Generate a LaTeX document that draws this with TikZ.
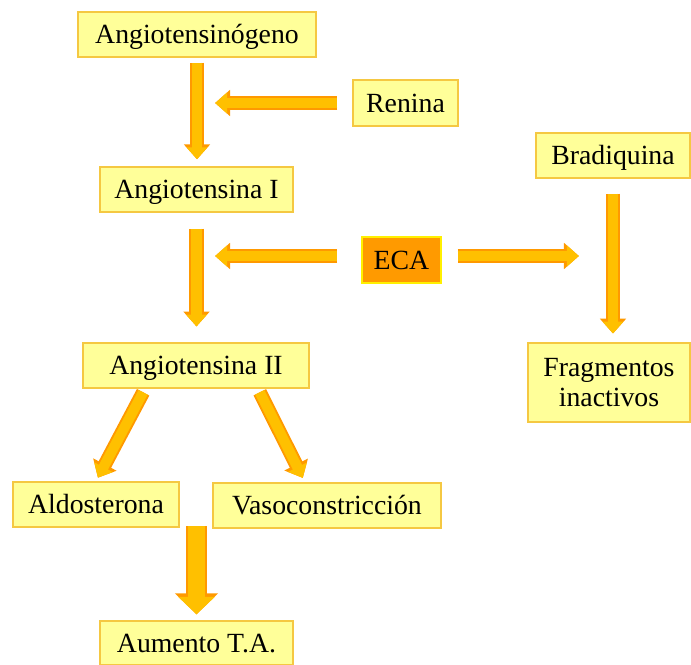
\documentclass[tikz,border=0pt]{standalone}
\usepackage{fontspec}
\setmainfont{Liberation Serif}
\usetikzlibrary{positioning, arrows.meta}

\definecolor{boxfill}{HTML}{FFFF99}
\definecolor{boxedge}{HTML}{F5C842}
\definecolor{ecafill}{HTML}{FF9A00}
\definecolor{ecaedge}{HTML}{FFF000}
\definecolor{arrowfill}{HTML}{FFC000}
\definecolor{arrowedge}{HTML}{FF9900}

\tikzset{
  cell/.style={draw=boxedge, fill=boxfill, line width=0.8pt, inner sep=0pt,
    align=center, font=\fontsize{15.8}{17.5}\selectfont},
  box/.style={cell, text height=14pt, text depth=3.6pt},
  ecabox/.style={box, draw=ecaedge, fill=ecafill},
  thinarrow/.style={
    preaction={draw=arrowedge, line width=8pt, -{Triangle[length=8.5pt,width=14.5pt]}},
    draw=arrowfill, line width=5.8pt, -{Triangle[length=6.8pt,width=11.5pt]},
    shorten >=1.2pt},
  fatarrow/.style={
    preaction={draw=arrowedge, line width=12pt, -{Triangle[length=12pt,width=24pt]}},
    draw=arrowfill, line width=9.6pt, -{Triangle[length=10pt,width=20.4pt]},
    shorten >=1.4pt}
}

\begin{document}
\begin{tikzpicture}[x=0.02cm, y=-0.02cm]
  \useasboundingbox (0,0) rectangle (691,664);

  % nodes
  \node[box, minimum width=4.76cm, minimum height=0.90cm] (ango) at (197,34.5) {Angiotensinógeno};
  \node[box, minimum width=2.10cm, minimum height=0.92cm] (ren) at (405.5,103) {Renina};
  \node[box, minimum width=3.86cm, minimum height=0.90cm] (ang1) at (196.5,189.5) {Angiotensina I};
  \node[box, minimum width=3.08cm, minimum height=0.90cm] (brad) at (613,155.5) {Bradiquina};
  \node[ecabox, minimum width=1.58cm, minimum height=0.92cm] (eca) at (401.5,260) {ECA};
  \node[box, minimum width=4.52cm, minimum height=0.90cm] (ang2) at (196,365.5) {Angiotensina II};
  \node[cell, minimum width=3.24cm, minimum height=1.58cm] (frag) at (609,382.5) {Fragmentos\\inactivos};
  \node[box, minimum width=3.32cm, minimum height=0.90cm] (ald) at (96,504.5) {Aldosterona};
  \node[box, minimum width=4.56cm, minimum height=0.90cm] (vaso) at (327,505.5) {Vasoconstricción};
  \node[box, minimum width=3.86cm, minimum height=0.88cm] (aum) at (196.5,643) {Aumento T.A.};

  % free ends
  \coordinate (r1) at (213,103);
  \coordinate (e1) at (213,256);
  \coordinate (e2) at (581,256);
  \coordinate (a0) at (196.5,526);

  % connectors
  \draw[thinarrow, shorten <=2.8pt, shorten >=4pt] (ango.south) -- (ango.south |- ang1.north);
  \draw[thinarrow, shorten <=8.5pt] (ren.west) -- (r1);
  \draw[thinarrow, shorten <=9pt, shorten >=9pt] (ang1.south) -- (ang1.south |- ang2.north);
  \draw[thinarrow, shorten <=13.7pt] (e1 -| eca.west) -- (e1);
  \draw[thinarrow, shorten <=9pt] (e2 -| eca.east) -- (e2);
  \draw[thinarrow, shorten <=8.5pt, shorten >=5pt] (brad.south) -- (brad.south |- frag.north);
  \draw[thinarrow, shorten <=2.3pt, shorten >=2.3pt] ([xshift=-1.02cm]ang2.south) -- (ald.north);
  \draw[thinarrow, shorten <=2.3pt, shorten >=2.8pt] ([xshift=1.24cm]ang2.south) -- ([xshift=-0.44cm]vaso.north);
  \draw[fatarrow, shorten >=3.4pt] (a0) -- (aum.north);
\end{tikzpicture}
\end{document}
